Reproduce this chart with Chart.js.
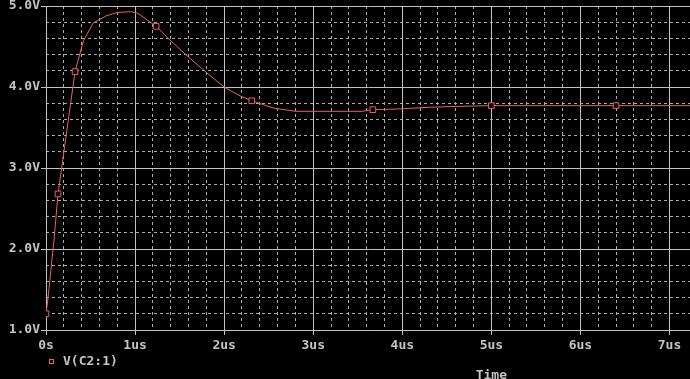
<!DOCTYPE html>
<html>
<head>
<meta charset="utf-8">
<script src="https://cdn.jsdelivr.net/npm/chart.js@4.4.1/dist/chart.umd.min.js"></script>
<style>
  html, body { margin: 0; padding: 0; background: #000; }
  canvas { display: block; }
</style>
</head>
<body>
<canvas id="probeChart" width="690" height="379"></canvas>
<script>
// transient of V(C2:1), time in us, voltage in V
const timeUs = [0, 0.02, 0.09, 0.135, 0.25, 0.326, 0.42, 0.53, 0.68, 0.80, 0.95, 1.03, 1.236, 1.39, 1.60, 1.81, 2.00, 2.16, 2.31, 2.55, 2.80, 3.20, 3.55, 3.67, 3.98, 4.30, 4.60, 5.00, 5.60, 6.40, 7.23];
const voltage = [1.20, 1.37, 2.11, 2.68, 3.59, 4.19, 4.57, 4.79, 4.88, 4.92, 4.93, 4.91, 4.75, 4.58, 4.37, 4.17, 4.00, 3.90, 3.83, 3.74, 3.70, 3.70, 3.70, 3.72, 3.73, 3.75, 3.76, 3.77, 3.77, 3.77, 3.77];
const markerTimes = [0, 0.135, 0.326, 1.236, 2.31, 3.67, 5.00, 6.40];
const seriesLabel = 'V(C2:1)';
const xTicks = [0, 1, 2, 3, 4, 5, 6, 7];
const yTicks = [1, 2, 3, 4, 5];

const traceColor = '#e46464';
const gridColor = '#c2c2c2';
const minorColor = '#acacac';
const textColor = '#c4c4c4';
const monoFont = { family: '"DejaVu Sans Mono", monospace', size: 13, weight: 'bold' };

const isWhole = v => Math.abs(v - Math.round(v)) < 1e-6;

// no extra room for labels hanging past the plot edges
const noEdgePadding = s => {
    s.paddingTop = 0;
    s.paddingBottom = 0;
    s.paddingLeft = 0;
    s.paddingRight = 0;
};

// legend + axis name, drawn like the probe window does
const probeLabels = {
    id: 'probeLabels',
    afterDraw(chart) {
        const { ctx, scales } = chart;
        const ds = chart.data.datasets[0];
        ctx.save();
        ctx.font = 'bold 13px "DejaVu Sans Mono", monospace';
        ctx.textBaseline = 'middle';
        ctx.strokeStyle = ds.borderColor;
        ctx.lineWidth = 1;
        ctx.strokeRect(49.5, 359.5, 4, 4);
        ctx.fillStyle = textColor;
        ctx.fillText(ds.label, 63, 362);
        ctx.textAlign = 'center';
        ctx.fillText('Time', scales.x.getPixelForValue(5), 376);
        ctx.restore();
    }
};

const ctx = document.getElementById('probeChart');
new Chart(ctx, {
    type: 'line',
    data: {
        datasets: [{
            label: seriesLabel,
            data: timeUs.map((t, i) => ({ x: t, y: voltage[i] })),
            borderColor: traceColor,
            borderWidth: 1,
            tension: 0,
            pointStyle: 'rect',
            pointRadius: c => markerTimes.includes(timeUs[c.dataIndex]) ? 4 : 0,
            pointBorderColor: traceColor,
            pointBackgroundColor: '#000',
            pointBorderWidth: 1
        }]
    },
    options: {
        responsive: false,
        devicePixelRatio: 1,
        animation: false,
        layout: { autoPadding: false, padding: { top: 6, right: 0, bottom: 0, left: 0 } },
        plugins: {
            legend: { display: false },
            tooltip: { enabled: false }
        },
        scales: {
            x2: {
                type: 'linear', position: 'bottom', min: 0, max: 7.23,
                ticks: { display: false, stepSize: 0.2 },
                grid: { color: c => isWhole(c.tick.value) ? 'rgba(0,0,0,0)' : minorColor, drawTicks: false },
                border: { display: false, dash: [3, 3] },
                afterBuildTicks: s => { s.ticks = s.ticks.filter(t => t.value <= 7.2 + 1e-6); },
                afterFit: s => { s.height = 0; noEdgePadding(s); }
            },
            y2: {
                type: 'linear', position: 'left', min: 1, max: 5,
                ticks: { display: false, stepSize: 0.2 },
                grid: { color: c => isWhole(c.tick.value) ? 'rgba(0,0,0,0)' : minorColor, drawTicks: false },
                border: { display: false, dash: [3, 3] },
                afterFit: s => { s.width = 0; noEdgePadding(s); }
            },
            x: {
                type: 'linear', position: 'bottom', min: 0, max: 7.23,
                afterBuildTicks: s => { s.ticks = xTicks.map(v => ({ value: v })); },
                ticks: {
                    color: textColor, font: monoFont, padding: 3, maxRotation: 0,
                    callback: v => v === 0 ? '0s' : v + 'us'
                },
                grid: { color: gridColor, tickLength: 5, tickColor: gridColor },
                border: { color: gridColor },
                afterFit: s => { s.height = 49; noEdgePadding(s); }
            },
            y: {
                type: 'linear', position: 'left', min: 1, max: 5,
                afterBuildTicks: s => { s.ticks = yTicks.map(v => ({ value: v })); },
                ticks: {
                    color: textColor, font: monoFont, padding: 1,
                    callback: v => v.toFixed(1) + 'V'
                },
                grid: { color: gridColor, tickLength: 5, tickColor: gridColor },
                border: { color: gridColor },
                afterFit: s => { s.width = 46; noEdgePadding(s); }
            }
        }
    },
    plugins: [probeLabels]
});
</script>
</body>
</html>
